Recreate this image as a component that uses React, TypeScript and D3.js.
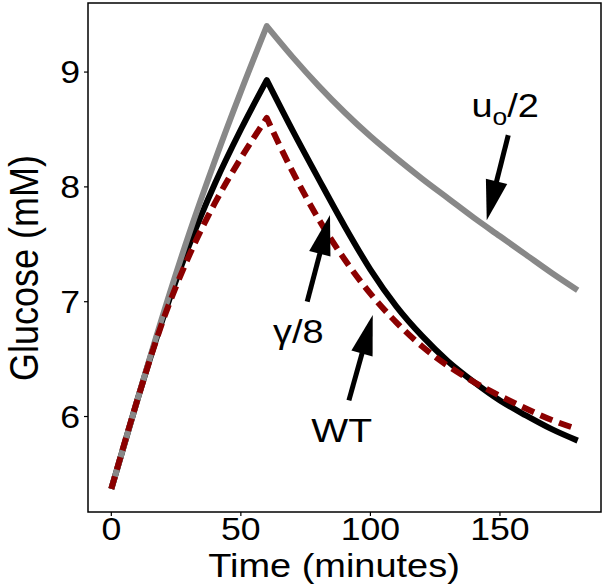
import React from "react";
import * as d3 from "d3";

// ---- data ----
const time = [0, 10, 20, 30, 40, 50, 60, 70, 80, 90, 100, 110, 120, 130, 140, 150, 160, 170, 180];
const glucoseWT = [5.37, 6.14, 6.86, 7.49, 8.03, 8.5, 8.93, 8.49, 8.07, 7.66, 7.28, 6.96, 6.7, 6.48, 6.3, 6.14, 6.01, 5.89, 5.79];
const glucoseU0Half = [5.37, 6.14, 6.89, 7.59, 8.23, 8.83, 9.4, 9.13, 8.88, 8.65, 8.44, 8.25, 8.07, 7.9, 7.73, 7.57, 7.41, 7.25, 7.1];
const glucoseGamma8 = [5.37, 6.14, 6.84, 7.4, 7.86, 8.25, 8.6, 8.13, 7.72, 7.37, 7.07, 6.82, 6.61, 6.44, 6.3, 6.18, 6.07, 5.97, 5.89];
const peakTime = 60;

const xTicks = [0, 50, 100, 150];
const yTicks = [6, 7, 8, 9];

// annotation labels and arrows, in data units
const labelNames = ["u0/2", "γ/8", "WT"];
const labelX = [152.0, 72.2, 88.9];
const labelY = [8.61, 6.64, 5.78];
const arrowFromX = [153.2, 75.6, 91.7];
const arrowFromY = [8.45, 7.0, 6.14];
const arrowToX = [144.9, 84.4, 100.9];
const arrowToY = [7.71, 7.755, 6.884];

const W = 605;
const H = 588;
const panel = { left: 88, right: 601, top: 3, bottom: 512 };
const FONT = "'Liberation Sans', Arial, Helvetica, sans-serif";
const SX = 1.15; // horizontal glyph stretch seen in the reference

function expand(ext: [number, number]): [number, number] {
  const r = ext[1] - ext[0];
  return [ext[0] - 0.05 * r, ext[1] + 0.05 * r];
}

function SText(props: {
  x: number;
  y: number;
  size: number;
  anchor?: "start" | "middle" | "end";
  dy?: string;
  rotate?: number;
  children: React.ReactNode;
}) {
  const { x, y, size, anchor = "middle", dy, rotate, children } = props;
  const tr = `translate(${x},${y}) scale(${SX},1)` + (rotate ? ` rotate(${rotate})` : "");
  return (
    <g transform={tr}>
      <text x={0} y={0} dy={dy} textAnchor={anchor} fontSize={size} fill="#000">
        {children}
      </text>
    </g>
  );
}

export default function App() {
  const allY = [...glucoseWT, ...glucoseU0Half, ...glucoseGamma8];
  const x = d3.scaleLinear().domain(expand(d3.extent(time) as [number, number])).range([panel.left, panel.right]);
  const y = d3.scaleLinear().domain(expand(d3.extent(allY) as [number, number])).range([panel.bottom, panel.top]);

  const makePath = (vals: number[]) => {
    const pts = time.map((t, i) => [t, vals[i]] as [number, number]);
    const rise = pts.filter((p) => p[0] <= peakTime);
    const decay = pts.filter((p) => p[0] >= peakTime);
    const line = d3
      .line<[number, number]>()
      .x((d) => x(d[0]))
      .y((d) => y(d[1]))
      .curve(d3.curveMonotoneX);
    return (line(rise) || "") + (line(decay) || "").replace(/^M/, "L");
  };

  const arrows = labelNames.map((_, i) => {
    const x0 = x(arrowFromX[i]);
    const y0 = y(arrowFromY[i]);
    const x1 = x(arrowToX[i]);
    const y1 = y(arrowToY[i]);
    const dx = x1 - x0;
    const dy = y1 - y0;
    const len = Math.hypot(dx, dy);
    const ux = dx / len;
    const uy = dy / len;
    const headLen = 40;
    const headW = 11;
    const bx = x1 - ux * headLen;
    const by = y1 - uy * headLen;
    const px = -uy;
    const py = ux;
    return {
      shaft: { x1: x0, y1: y0, x2: bx + ux * 2, y2: by + uy * 2 },
      head: `${x1},${y1} ${bx + px * headW},${by + py * headW} ${bx - px * headW},${by - py * headW}`,
    };
  });

  return (
    <svg width={W} height={H} style={{ display: "block", position: "absolute", left: 0, top: 0 }} fontFamily={FONT}>
      <rect x={0} y={0} width={W} height={H} fill="white" />
      {/* curves */}
      <path d={makePath(glucoseWT)} fill="none" stroke="#000000" strokeWidth={6} strokeLinejoin="round" />
      <path d={makePath(glucoseU0Half)} fill="none" stroke="#888888" strokeWidth={6} strokeLinejoin="round" />
      <path
        d={makePath(glucoseGamma8)}
        fill="none"
        stroke="#8B0000"
        strokeWidth={6}
        strokeLinejoin="round"
        strokeDasharray="13 7"
      />
      {/* panel border */}
      <rect
        x={panel.left}
        y={panel.top}
        width={panel.right - panel.left}
        height={panel.bottom - panel.top}
        fill="none"
        stroke="#000"
        strokeWidth={1.5}
      />
      {/* x axis */}
      {xTicks.map((t) => (
        <g key={"x" + t}>
          <line x1={x(t)} x2={x(t)} y1={panel.bottom} y2={panel.bottom + 4} stroke="#000" strokeWidth={1.2} />
          <SText x={x(t)} y={540} size={31}>
            {t}
          </SText>
        </g>
      ))}
      {/* y axis */}
      {yTicks.map((v) => (
        <g key={"y" + v}>
          <line x1={panel.left - 4} x2={panel.left} y1={y(v)} y2={y(v)} stroke="#000" strokeWidth={1.2} />
          <SText x={80} y={y(v)} dy="0.36em" anchor="end" size={31}>
            {v}
          </SText>
        </g>
      ))}
      <SText x={334} y={577} size={33}>
        Time (minutes)
      </SText>
      <SText x={38} y={268} size={36} rotate={-90}>
        Glucose (mM)
      </SText>
      {/* annotations */}
      {arrows.map((a, i) => (
        <g key={"a" + i}>
          <line {...a.shaft} stroke="#000" strokeWidth={5} />
          <polygon points={a.head} fill="#000" />
        </g>
      ))}
      <SText x={x(labelX[0])} y={y(labelY[0])} size={33}>
        u<tspan fontSize={23} dy={8}>o</tspan>
        <tspan dy={-8}>/2</tspan>
      </SText>
      <SText x={x(labelX[1])} y={y(labelY[1])} size={33}>
        {labelNames[1]}
      </SText>
      <SText x={x(labelX[2])} y={y(labelY[2])} size={34}>
        {labelNames[2]}
      </SText>
    </svg>
  );
}
